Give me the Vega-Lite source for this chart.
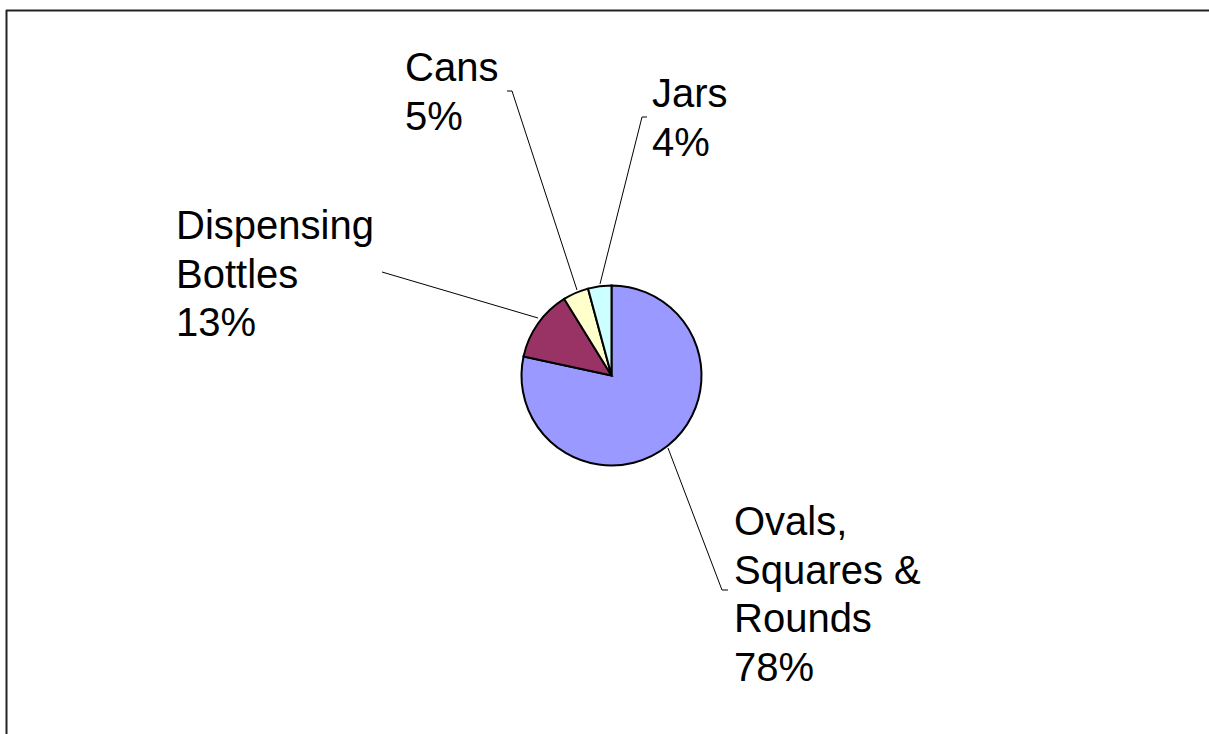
{
  "$schema": "https://vega.github.io/schema/vega-lite/v6.json",
  "width": 1209,
  "height": 734,
  "padding": 0,
  "autosize": {"type": "none"},
  "background": "white",
  "config": {"view": {"stroke": null}},
  "datasets": {
    "slices": [
      {"category": "Ovals, Squares & Rounds", "value": 78.4, "ord": 1},
      {"category": "Dispensing Bottles", "value": 12.8, "ord": 2},
      {"category": "Cans", "value": 4.6, "ord": 3},
      {"category": "Jars", "value": 4.2, "ord": 4}
    ],
    "labels": [
      {"category": "Ovals, Squares & Rounds", "label": "Ovals,\nSquares &\nRounds\n78%", "lx": 734, "ly": 535},
      {"category": "Dispensing Bottles", "label": "Dispensing\nBottles\n13%", "lx": 176, "ly": 239},
      {"category": "Cans", "label": "Cans\n5%", "lx": 405, "ly": 81},
      {"category": "Jars", "label": "Jars\n4%", "lx": 652, "ly": 107}
    ],
    "leaders": [
      {"category": "Cans", "seq": 1, "px": 507, "py": 91},
      {"category": "Cans", "seq": 2, "px": 512, "py": 91},
      {"category": "Cans", "seq": 3, "px": 577, "py": 290},
      {"category": "Jars", "seq": 1, "px": 647, "py": 117},
      {"category": "Jars", "seq": 2, "px": 642, "py": 117},
      {"category": "Jars", "seq": 3, "px": 600, "py": 284},
      {"category": "Dispensing Bottles", "seq": 1, "px": 382, "py": 272},
      {"category": "Dispensing Bottles", "seq": 2, "px": 538, "py": 318},
      {"category": "Ovals, Squares & Rounds", "seq": 1, "px": 668, "py": 448},
      {"category": "Ovals, Squares & Rounds", "seq": 2, "px": 722, "py": 590},
      {"category": "Ovals, Squares & Rounds", "seq": 3, "px": 728, "py": 590}
    ]
  },
  "layer": [
    {
      "data": {"values": [{}]},
      "mark": {"type": "rule", "stroke": "#222222", "strokeWidth": 2},
      "encoding": {
        "x": {"datum": 6, "type": "quantitative", "scale": {"domain": [0, 1209]}, "axis": null},
        "x2": {"datum": 1209},
        "y": {"datum": 10.5, "type": "quantitative", "scale": {"domain": [0, 734], "reverse": true}, "axis": null}
      }
    },
    {
      "data": {"values": [{}]},
      "mark": {"type": "rule", "stroke": "#222222", "strokeWidth": 2},
      "encoding": {
        "x": {"datum": 6.5, "type": "quantitative", "scale": {"domain": [0, 1209]}, "axis": null},
        "y": {"datum": 10, "type": "quantitative", "scale": {"domain": [0, 734], "reverse": true}, "axis": null},
        "y2": {"datum": 734}
      }
    },
    {
      "data": {"name": "slices"},
      "mark": {"type": "arc", "outerRadius": 90, "stroke": "#000000", "strokeWidth": 2},
      "encoding": {
        "x": {"datum": 611.5, "type": "quantitative", "scale": {"domain": [0, 1209]}, "axis": null},
        "y": {"datum": 375.5, "type": "quantitative", "scale": {"domain": [0, 734], "reverse": true}, "axis": null},
        "theta": {"field": "value", "type": "quantitative", "stack": true},
        "order": {"field": "ord", "type": "quantitative"},
        "color": {
          "field": "category",
          "type": "nominal",
          "scale": {
            "domain": ["Ovals, Squares & Rounds", "Dispensing Bottles", "Cans", "Jars"],
            "range": ["#9999FF", "#993366", "#FFFFCC", "#CCFFFF"]
          },
          "legend": null
        }
      }
    },
    {
      "data": {"name": "leaders"},
      "mark": {"type": "line", "stroke": "#000000", "strokeWidth": 1},
      "encoding": {
        "x": {"field": "px", "type": "quantitative", "scale": {"domain": [0, 1209]}, "axis": null},
        "y": {"field": "py", "type": "quantitative", "scale": {"domain": [0, 734], "reverse": true}, "axis": null},
        "detail": {"field": "category", "type": "nominal"},
        "order": {"field": "seq", "type": "quantitative"}
      }
    },
    {
      "data": {"name": "labels"},
      "mark": {
        "type": "text",
        "align": "left",
        "baseline": "alphabetic",
        "font": "Liberation Sans",
        "fontSize": 40,
        "lineHeight": 48.5,
        "lineBreak": "\n",
        "color": "#000000"
      },
      "encoding": {
        "x": {"field": "lx", "type": "quantitative", "scale": {"domain": [0, 1209]}, "axis": null},
        "y": {"field": "ly", "type": "quantitative", "scale": {"domain": [0, 734], "reverse": true}, "axis": null},
        "text": {"field": "label", "type": "nominal"}
      }
    }
  ]
}
